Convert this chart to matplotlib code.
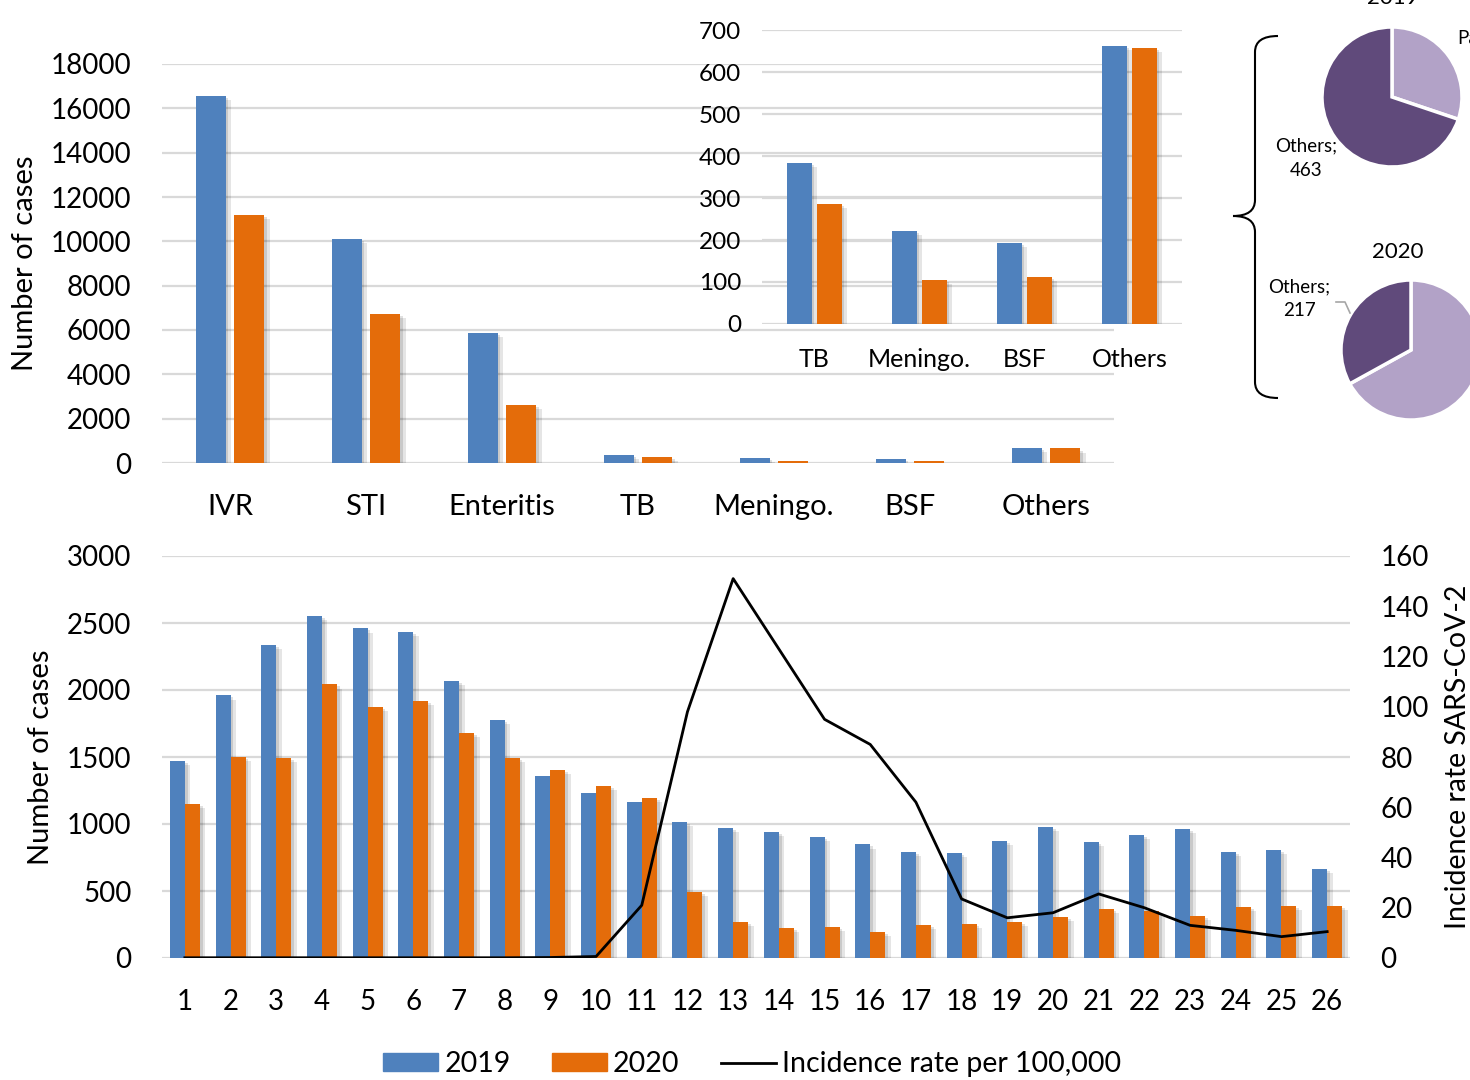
import matplotlib
matplotlib.use('Agg')
import matplotlib.pyplot as plt
import matplotlib.patheffects as pe
from matplotlib.path import Path
from matplotlib.patches import PathPatch, Patch
from matplotlib.lines import Line2D
import numpy as np

plt.rcParams['font.family'] = ['Lato', 'DejaVu Sans']

# data
categories = ['IVR', 'STI', 'Enteritis', 'TB', 'Meningo.', 'BSF', 'Others']
cases_2019 = [16550, 10100, 5860, 383, 221, 194, 663]
cases_2020 = [11200, 6720, 2620, 286, 105, 112, 657]

pie_labels = ['Pa', 'Others']
pie_2019 = [200, 463]
pie_2020 = [440, 217]

weeks = list(range(1, 27))
weekly_2019 = [1470, 1960, 2336, 2555, 2460, 2433, 2067, 1776, 1358, 1231, 1166, 1018,
               970, 940, 905, 848, 793, 784, 875, 980, 868, 920, 963, 791, 806, 664]
weekly_2020 = [1150, 1500, 1493, 2042, 1873, 1918, 1679, 1493, 1403, 1284, 1194, 496,
               272, 224, 235, 194, 250, 254, 269, 306, 366, 350, 313, 380, 388, 388]
incidence = [0.1, 0.1, 0.1, 0.1, 0.1, 0.1, 0.1, 0.1, 0.2, 0.6, 21, 98, 151, 123, 95,
             85, 62, 23.5, 16, 18, 25.5, 20, 13, 11, 8.5, 10.5]

BLUE = '#4F81BD'
ORANGE = '#E46C0A'
GRID = '#D9D9D9'
LIGHT = '#B2A2C7'
DARK = '#604A7B'

shadow = [pe.SimplePatchShadow(offset=(4, -3), shadow_rgbFace='k', alpha=0.10),
          pe.SimplePatchShadow(offset=(2, -1.5), shadow_rgbFace='k', alpha=0.12),
          pe.Normal()]

W, H = 1470, 1080
fig = plt.figure(figsize=(W / 100, H / 100), dpi=100)


def px_axes(x0, y0, x1, y1, **kw):
    # pixel box (top-left origin) -> figure axes
    return fig.add_axes([x0 / W, 1 - y1 / H, (x1 - x0) / W, (y1 - y0) / H], **kw)


def style(ax):
    for s in ax.spines.values():
        s.set_visible(False)
    ax.tick_params(length=0)
    ax.grid(axis='y', color=GRID, lw=1.6)
    ax.set_axisbelow(True)


# ---- top main chart ----
ax1 = px_axes(162, 64, 1114, 463)
style(ax1)
x = np.arange(len(categories))
ax1.bar(x - 0.143, cases_2019, 0.22, color=BLUE, path_effects=shadow)
ax1.bar(x + 0.143, cases_2020, 0.22, color=ORANGE, path_effects=shadow)
ax1.set_xlim(-0.5, len(categories) - 0.5)
ax1.set_ylim(0, 18000)
ax1.set_yticks(range(0, 18001, 2000))
ax1.set_xticks(x)
ax1.set_xticklabels(categories, fontsize=21)
ax1.tick_params(axis='x', pad=22)
ax1.tick_params(axis='y', labelsize=20, pad=22)
ax1.set_ylabel('Number of cases', fontsize=21)
ax1.yaxis.set_label_coords(-0.130, 0.5)

# ---- inset ----
ax2 = px_axes(762, 30, 1182, 324)
ax2.patch.set_alpha(0)
style(ax2)
xi = np.arange(4)
ax2.bar(xi - 0.143, cases_2019[3:], 0.229, color=BLUE, path_effects=shadow)
ax2.bar(xi + 0.143, cases_2020[3:], 0.229, color=ORANGE, path_effects=shadow)
ax2.set_xlim(-0.5, 3.5)
ax2.set_ylim(0, 700)
ax2.set_yticks(range(0, 701, 100))
ax2.set_xticks(xi)
ax2.set_xticklabels(categories[3:], fontsize=18)
ax2.tick_params(axis='x', pad=17)
ax2.tick_params(axis='y', labelsize=17.5, pad=15)

# ---- pies ----
for vals, box in [(pie_2019, (1322, 27, 1462, 167)),
                  (pie_2020, (1341, 280, 1481, 420))]:
    axp = px_axes(*box)
    axp.pie(vals, colors=[LIGHT, DARK], startangle=90, counterclock=False,
            wedgeprops=dict(edgecolor='white', linewidth=2.5))
    axp.set_xlim(-1.0, 1.0)
    axp.set_ylim(-1.0, 1.0)
    axp.set_aspect('equal')
    axp.axis('off')

# ---- bottom chart ----
ax3 = px_axes(162, 556, 1350, 958)
style(ax3)
wk = np.array(weeks)
ax3.bar(wk - 0.164, weekly_2019, 0.328, color=BLUE, path_effects=shadow, label='2019')
ax3.bar(wk + 0.164, weekly_2020, 0.328, color=ORANGE, path_effects=shadow, label='2020')
ax3.set_xlim(0.5, 26.5)
ax3.set_ylim(0, 3000)
ax3.set_yticks(range(0, 3001, 500))
ax3.set_xticks(weeks)
ax3.tick_params(axis='x', labelsize=20, pad=22)
ax3.tick_params(axis='y', labelsize=20, pad=22)
ax3.set_ylabel('Number of cases', fontsize=21)
ax3.yaxis.set_label_coords(-0.091, 0.5)

ax4 = ax3.twinx()
for s in ax4.spines.values():
    s.set_visible(False)
ax4.plot(wk, incidence, color='black', lw=2.0, label='Incidence rate per 100,000')
ax4.set_ylim(0, 160)
ax4.set_yticks(range(0, 161, 20))
ax4.tick_params(length=0, labelsize=20, pad=22)
ax4.set_ylabel('Incidence rate SARS-CoV-2', fontsize=20.5)
ax4.yaxis.set_label_coords(1.080, 0.5)

handles = [Patch(color=BLUE), Patch(color=ORANGE), Line2D([], [], color='black', lw=2)]
fig.legend(handles, ['2019', '2020', 'Incidence rate per 100,000'], loc='center',
           bbox_to_anchor=(752 / W, 1 - 1064 / H), ncol=3, frameon=False, fontsize=20.5,
           handlelength=1.95, handleheight=0.55, handletextpad=0.2, columnspacing=1.45)

# ---- overlay: brace and pie labels ----
ov = fig.add_axes([0, 0, 1, 1], zorder=5)
ov.set_xlim(0, W)
ov.set_ylim(H, 0)
ov.axis('off')
ov.patch.set_alpha(0)
verts = [(1278, 36), (1255, 36), (1255, 52), (1255, 200), (1255, 216), (1233, 216),
         (1255, 216), (1255, 232), (1255, 382), (1255, 398), (1278, 398)]
codes = [Path.MOVETO, Path.CURVE3, Path.CURVE3, Path.LINETO, Path.CURVE3, Path.CURVE3,
         Path.CURVE3, Path.CURVE3, Path.LINETO, Path.CURVE3, Path.CURVE3]
ov.add_patch(PathPatch(Path(verts, codes), fc='none', ec='black', lw=1.5))

# titles partly outside the frame, as in the source figure
ov.text(1393, 8, '2019', ha='center', va='bottom', fontsize=16)
ov.text(1398, 262, '2020', ha='center', va='bottom', fontsize=16)
ov.text(1306, 158, f'{pie_labels[1]};\n{pie_2019[1]}', ha='center', va='center',
        fontsize=13.5, linespacing=1.5)
ov.text(1457, 38, f'{pie_labels[0]}', ha='left', va='center', fontsize=13.5)
ov.text(1299, 299, f'{pie_labels[1]};\n{pie_2020[1]}', ha='center', va='center',
        fontsize=13.5, linespacing=1.5)
ov.plot([1336, 1345, 1350], [302, 302, 313], color='#A6A6A6', lw=1.2)

fig.savefig('out.png', dpi=100, facecolor='white')
